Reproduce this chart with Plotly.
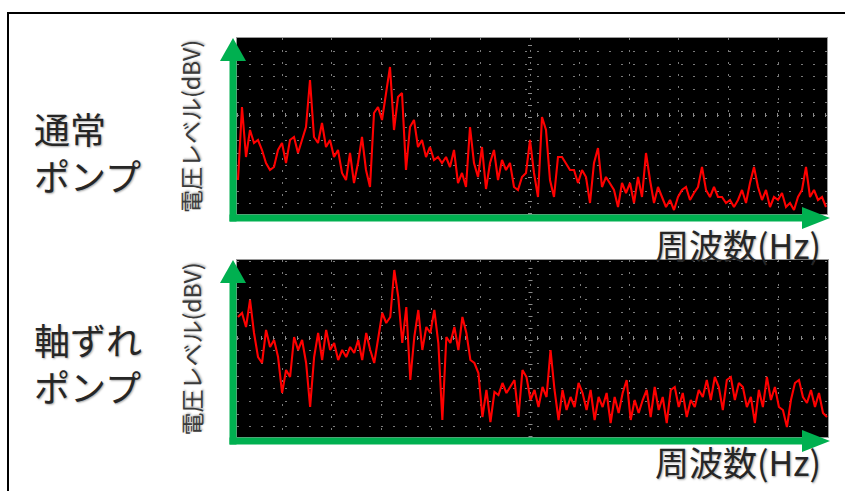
import plotly.graph_objects as go

W, H = 845, 491

# ---------------- data (arbitrary level units, index = frequency bin) -------------
freq_bin = list(range(148))

normal_pump = [
    34, 107, 57, 84, 71, 74, 64, 51, 44, 47,
    64, 71, 51, 74, 77, 61, 74, 87, 134, 77,
    71, 91, 67, 74, 57, 64, 41, 34, 61, 31,
    51, 77, 44, 27, 101, 107, 94, 121, 147, 84,
    117, 121, 44, 87, 94, 67, 74, 57, 67, 54,
    57, 51, 57, 47, 64, 31, 41, 27, 87, 51,
    37, 67, 25, 51, 64, 34, 54, 44, 51, 27,
    24, 37, 41, 74, 41, 17, 97, 84, 34, 17,
    57, 57, 51, 44, 44, 31, 44, 37, 11, 51,
    66, 27, 37, 31, 24, 7, 31, 21, 31, 11,
    37, 17, 61, 34, 11, 27, 17, 7, 14, 4,
    17, 24, 27, 14, 21, 27, 47, 24, 17, 27,
    17, 17, 11, 14, 7, 14, 24, 11, 31, 47,
    27, 14, 24, 7, 17, 14, 21, 7, 11, 4,
    17, 24, 47, 17, 24, 14, 17, 7,
]

misaligned_pump = [
    120, 124, 110, 137, 104, 80, 74, 107, 90, 97,
    80, 44, 67, 60, 100, 87, 97, 74, 30, 80,
    104, 77, 107, 87, 94, 77, 87, 80, 90, 84,
    97, 77, 104, 87, 74, 100, 124, 114, 120, 167,
    140, 94, 130, 57, 100, 127, 87, 110, 104, 127,
    94, 17, 100, 94, 110, 87, 120, 104, 77, 74,
    64, 20, 47, 15, 45, 42, 54, 44, 50, 57,
    20, 67, 60, 37, 47, 30, 50, 40, 87, 47,
    17, 47, 27, 40, 30, 54, 44, 27, 47, 17,
    40, 30, 44, 14, 40, 24, 44, 57, 17, 37,
    24, 37, 47, 20, 50, 27, 40, 14, 47, 50,
    30, 44, 20, 37, 30, 47, 40, 57, 37, 60,
    50, 27, 57, 60, 37, 54, 50, 30, 40, 14,
    47, 30, 60, 37, 50, 30, 27, 10, 37, 54,
    57, 40, 34, 47, 30, 44, 24, 20,
]

row_labels = ["通常<br>ポンプ", "軸ずれ<br>ポンプ"]
y_title = "電圧レベル(dBV)"
x_title = "周波数(Hz)"

# ---------------- layout helpers (pixel -> paper) ----------------
def px(x):
    return x / W

def py(y):
    return 1 - y / H

GREEN = "#00B050"
TXT = "#262626"
FONT = "Noto Sans CJK JP"
SHADOW = "1px 1px 2px rgba(0,0,0,0.35)"

# panel pixel boxes: (left, top, right, bottom)
panels = [(237, 38, 827, 214), (237, 260, 828, 437)]
yranges = [176, 177]

fig = go.Figure()
fig.add_trace(go.Scatter(x=freq_bin, y=normal_pump, mode="lines",
                         line=dict(color="#ff0000", width=2.1),
                         xaxis="x", yaxis="y", hoverinfo="skip"))
fig.add_trace(go.Scatter(x=freq_bin, y=misaligned_pump, mode="lines",
                         line=dict(color="#ff0000", width=2.1),
                         xaxis="x2", yaxis="y2", hoverinfo="skip"))

xgrid = [73 + 12.4 * k for k in range(-6, 7) if -0.25 < 73 + 12.4 * k < 147.2]

axis_common = dict(showticklabels=False, ticks="", zeroline=False,
                   showgrid=True, gridcolor="#7a7a7a", gridwidth=1.4,
                   griddash="1.5px,10.5px", showline=True, mirror=True,
                   linecolor="#9a9a9a", linewidth=1)

layout = dict(
    width=W, height=H, autosize=False,
    margin=dict(l=0, r=0, t=0, b=0),
    paper_bgcolor="white", plot_bgcolor="black",
    showlegend=False,
)
shapes = []
annotations = []

for n, ((l, t, r, b), yr) in enumerate(zip(panels, yranges)):
    sfx = "" if n == 0 else str(n + 1)
    ygrid = [99 + 12.7 * k for k in range(-8, 8) if 0 < 99 + 12.7 * k < yr]
    layout["xaxis" + sfx] = dict(axis_common, domain=[px(l), px(r)],
                                 range=[-0.25, 147.25], tickvals=xgrid,
                                 anchor="y" + sfx)
    layout["yaxis" + sfx] = dict(axis_common, domain=[py(b), py(t)],
                                 range=[0, yr], tickvals=ygrid,
                                 anchor="x" + sfx)
    # emphasised centre row / column of the graticule
    shapes.append(dict(type="line", xref="x" + sfx, yref="y" + sfx, layer="between",
                       x0=-0.25, x1=147.25, y0=99, y1=99,
                       line=dict(color="#8a8a8a", width=4, dash="1px,11px")))
    shapes.append(dict(type="line", xref="x" + sfx, yref="y" + sfx, layer="between",
                       x0=73, x1=73, y0=0, y1=yr,
                       line=dict(color="#8a8a8a", width=4, dash="1px,11px")))

    # green axis arrows
    sx = 233  # vertical stem centre
    sy = b + 4  # horizontal stem centre
    shapes.append(dict(type="line", xref="paper", yref="paper",
                       x0=px(sx), x1=px(sx), y0=py(sy + 3.5), y1=py(t + 22),
                       line=dict(color=GREEN, width=7)))
    shapes.append(dict(type="line", xref="paper", yref="paper",
                       x0=px(sx - 3.5), x1=px(803), y0=py(sy), y1=py(sy),
                       line=dict(color=GREEN, width=7)))
    shapes.append(dict(type="path", xref="paper", yref="paper",
                       path=f"M {px(220)},{py(t + 23)} L {px(sx)},{py(t)} "
                            f"L {px(246)},{py(t + 23)} Z",
                       fillcolor=GREEN, line=dict(width=0)))
    shapes.append(dict(type="path", xref="paper", yref="paper",
                       path=f"M {px(802)},{py(sy - 11)} L {px(830)},{py(sy)} "
                            f"L {px(802)},{py(sy + 11)} Z",
                       fillcolor=GREEN, line=dict(width=0)))

    # texts
    annotations.append(dict(text=row_labels[n], xref="paper", yref="paper",
                            x=px(32), y=py([151, 362][n]),
                            xanchor="left", yanchor="middle", align="left",
                            showarrow=False,
                            font=dict(family=FONT, size=36, color=TXT,
                                      shadow=SHADOW)))
    annotations.append(dict(text=y_title, xref="paper", yref="paper",
                            x=px(190), y=py((t + b) / 2 + 1), textangle=-90,
                            xanchor="center", yanchor="middle", showarrow=False,
                            font=dict(family=FONT, size=23, color="#3a3a3a",
                                      shadow=SHADOW)))
    annotations.append(dict(text=x_title, xref="paper", yref="paper",
                            x=px(823), y=py([244, 461][n]),
                            xanchor="right", yanchor="middle", showarrow=False,
                            font=dict(family=FONT, size=34, color=TXT,
                                      shadow=SHADOW)))

# outer frame
shapes.append(dict(type="rect", xref="paper", yref="paper",
                   x0=px(8), x1=px(W + 20), y0=py(13), y1=py(H + 20),
                   line=dict(color="black", width=2), fillcolor="rgba(0,0,0,0)"))

layout["shapes"] = shapes
layout["annotations"] = annotations
fig.update_layout(**layout)
fig.write_html("out.html",
               config={"displayModeBar": False},
               post_script="document.body.style.margin='0';"
                           "document.body.style.overflow='hidden';")
